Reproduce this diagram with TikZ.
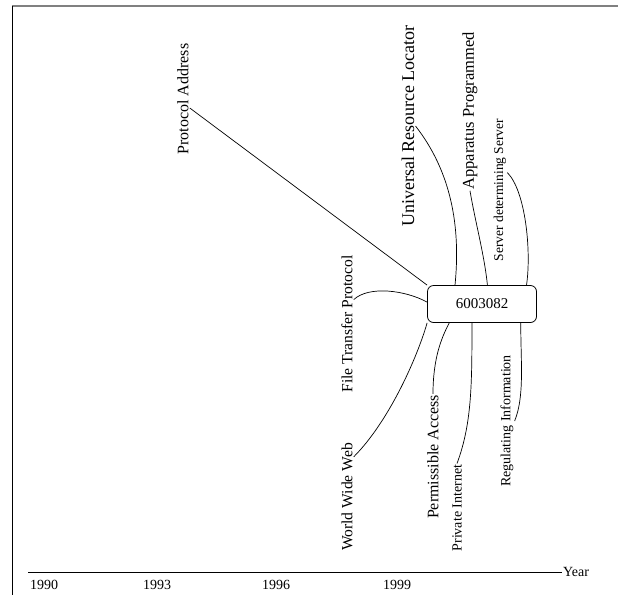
\documentclass[tikz,border=0pt]{standalone}
\usepackage{fontspec}
\setmainfont{Liberation Serif}
\usetikzlibrary{calc}
\tikzset{
  lbl/.style={rotate=90, inner sep=1pt},
  conn/.style={draw=black, line width=0.7pt},
  hub/.style={draw=black, rounded corners=6pt, line width=0.8pt, minimum width=109pt, minimum height=37pt, inner sep=0pt, font=\fontsize{15pt}{17pt}\selectfont},
  yearlbl/.style={inner sep=0pt, font=\fontsize{14pt}{16pt}\selectfont}
}
\begin{document}
\begin{tikzpicture}[x=1pt,y=-1pt]
\useasboundingbox (0,0) rectangle (618,595);
% frame
\draw[gray, line width=1.6pt] (12,6) -- (618,6);
\draw[black, line width=0.8pt] (12,6) -- (12,595);
% hub
\node[hub] (box) at (482,304) {6003082};
% labels
\node[lbl, font=\fontsize{16pt}{18pt}\selectfont] (PA) at (183,99) {Protocol Address};
\node[lbl, font=\fontsize{18pt}{20pt}\selectfont] (URL) at (408,126) {Universal Resource Locator};
\node[lbl, font=\fontsize{16.5pt}{18pt}\selectfont] (AP) at (470,111) {Apparatus Programmed};
\node[lbl, font=\fontsize{13.5pt}{15pt}\selectfont] (SdS) at (500,190) {Server determining Server};
\node[lbl, font=\fontsize{15.6pt}{17pt}\selectfont] (FTP) at (347,324) {File Transfer Protocol};
\node[lbl, font=\fontsize{15.6pt}{17pt}\selectfont] (WWW) at (347,497) {World Wide Web};
\node[lbl, font=\fontsize{16pt}{18pt}\selectfont] (PermA) at (433,457) {Permissible Access};
\node[lbl, font=\fontsize{14pt}{16pt}\selectfont] (PI) at (457,508) {Private Internet};
\node[lbl, font=\fontsize{14pt}{16pt}\selectfont] (RI) at (507,421) {Regulating Information};
% connectors
\draw[conn] ($(PA.south)!0.16!(PA.south west)$) -- (box.north west);
\draw[conn] (URL.south) .. controls +(35,45) and +(6,-60) .. (box.145);
\draw[conn] (AP.west) .. controls +(5,30) and +(-3,-30) .. (box.74.5);
\draw[conn] ($(SdS.south)!0.24!(SdS.south east)$) .. controls +(18,18) and +(5,-35) .. (box.23);
\draw[conn] ($(FTP.south)!0.35!(FTP.south east)$) .. controls +(15,-14) and +(-22,-12) .. (box.178);
\draw[conn] ($(WWW.south)!0.73!(WWW.south east)$) .. controls +(35,-35) and +(-10,35) .. (box.south west);
\draw[conn] (PermA.east) .. controls +(0,-35) and +(-8,15) .. (box.210.7);
\draw[conn] (PI.east) .. controls +(15,-40) and +(0,60) .. (box.242.2);
\draw[conn] (RI.south) .. controls +(10,-25) and +(0,40) .. (box.334.6);
% axis
\coordinate (ax0) at (28,572);
\coordinate (ax1) at (562,572);
\draw[black, line width=0.8pt] (ax0) -- (ax1);
\node[yearlbl, anchor=west, xshift=1pt] (yr) at (ax1) {Year};
\node[yearlbl] (y1990) at (44,585) {1990};
\node[yearlbl] (y1993) at (157,585) {1993};
\node[yearlbl] (y1996) at (276,585) {1996};
\node[yearlbl] (y1999) at (397,585) {1999};
\end{tikzpicture}
\end{document}
